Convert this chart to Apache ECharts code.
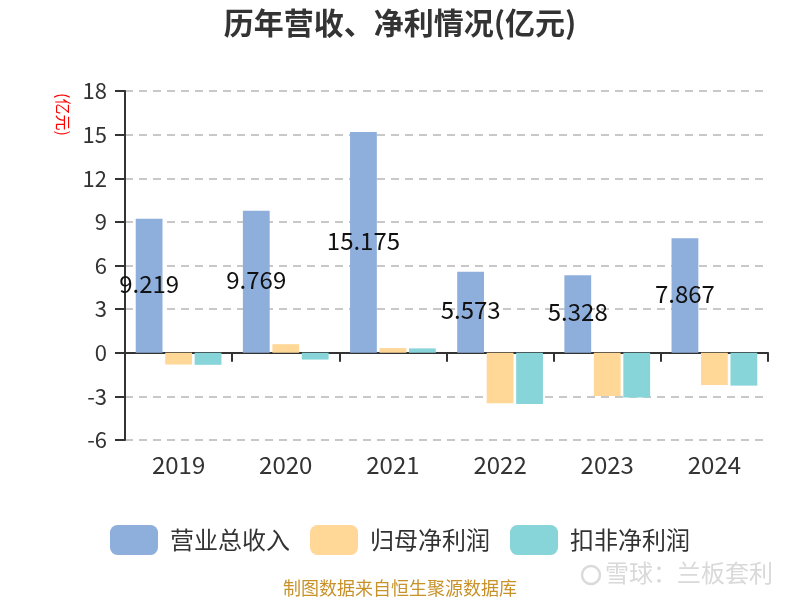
<!DOCTYPE html>
<html><head><meta charset="utf-8">
<script src="https://cdn.jsdelivr.net/npm/echarts@6/dist/echarts.min.js"></script>
<style>html,body{margin:0;padding:0;background:#fff}#c{width:800px;height:600px}</style>
</head><body><div id="c"></div>
<script>
const years = ['2019','2020','2021','2022','2023','2024'];
const revenue = [9.219, 9.769, 15.175, 5.573, 5.328, 7.867];
const netProfit = [-0.81, 0.59, 0.32, -3.47, -2.98, -2.22];
const deductedProfit = [-0.83, -0.47, 0.30, -3.52, -3.08, -2.26];
const yTicks = [-6, -3, 0, 3, 6, 9, 12, 15, 18];

const font = '"Microsoft YaHei","Noto Sans CJK SC",sans-serif';
const chart = echarts.init(document.getElementById('c'));
chart.setOption({
  animation: false,
  textStyle: {fontFamily: font},
  title: {
    text: '历年营收、净利情况(亿元)', left: 'center', top: 3,
    textStyle: {fontSize: 30, fontWeight: 'bold', color: '#333', fontFamily: font}
  },
  legend: {
    top: 520, left: 'center', itemWidth: 48, itemHeight: 30, itemGap: 20,
    icon: 'roundRect',
    textStyle: {fontSize: 24, color: '#333', fontFamily: font, padding: [0, 0, 0, 7]},
    data: ['营业总收入', '归母净利润', '扣非净利润']
  },
  grid: {left: 125, right: 32, top: 91, bottom: 160},
  xAxis: [{
    type: 'category', data: years,
    axisLine: {onZero: true, lineStyle: {color: '#333', width: 2}},
    axisTick: {show: true, length: 9, lineStyle: {color: '#333', width: 2}},
    axisLabel: {show: false}
  }, {
    type: 'category', data: years, position: 'bottom',
    axisLine: {show: false}, axisTick: {show: false},
    axisLabel: {fontSize: 24, color: '#333', margin: 13, fontFamily: font}
  }],
  yAxis: {
    type: 'value', min: -6, max: 18, interval: 3,
    axisLine: {show: true, lineStyle: {color: '#333', width: 2}},
    axisTick: {show: true, length: 10, lineStyle: {color: '#333', width: 2}},
    axisLabel: {fontSize: 22, color: '#333', margin: 18, fontFamily: font,
      formatter: v => yTicks.includes(v) ? String(v) : ''},
    splitLine: {lineStyle: {type: [8, 6], color: '#c8c8c8', width: 2}}
  },
  graphic: [{
    type: 'text', left: 55, top: 93, rotation: -Math.PI / 2,
    style: {text: '(亿元)', fill: '#ff0000', fontSize: 16, fontFamily: font}
  }, {
    type: 'text', left: 'center', top: 579,
    style: {text: '制图数据来自恒生聚源数据库', fill: '#c8922a', fontSize: 18, fontFamily: font}
  }, {
    type: 'circle', shape: {cx: 591, cy: 575, r: 9},
    style: {fill: 'none', stroke: '#dadada', lineWidth: 2.5}
  }, {
    type: 'text', left: 605, top: 561,
    style: {text: '雪球：兰板套利', fill: '#d9d9d9', fontSize: 24, fontFamily: font}
  }],
  series: [{
    name: '营业总收入', type: 'bar', data: revenue, xAxisIndex: 0,
    barGap: '10%', barCategoryGap: '20%',
    itemStyle: {color: '#8eaedb'},
    label: {show: true, position: 'inside', fontSize: 24, color: '#111', fontFamily: font, offset: [0, -2]}
  }, {
    name: '归母净利润', type: 'bar', data: netProfit, xAxisIndex: 0,
    itemStyle: {color: '#ffd898'}
  }, {
    name: '扣非净利润', type: 'bar', data: deductedProfit, xAxisIndex: 0,
    itemStyle: {color: '#87d5d9'}
  }]
});
</script></body></html>
